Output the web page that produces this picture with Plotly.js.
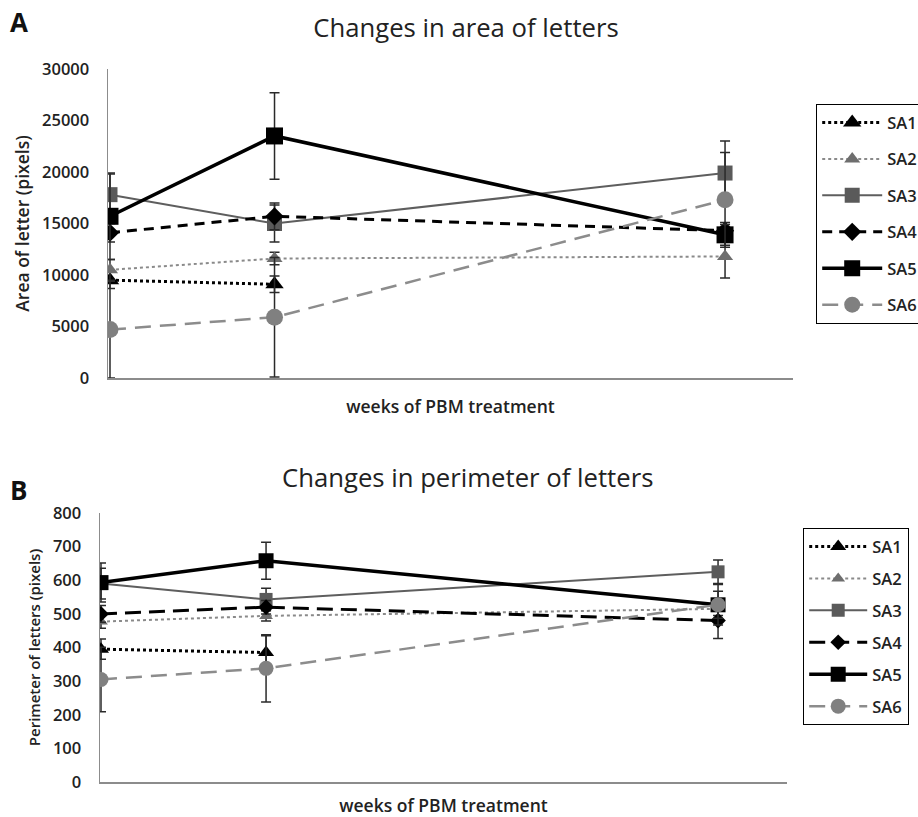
<!DOCTYPE html>
<html>
<head>
<meta charset="utf-8">
<script src="https://cdn.plot.ly/plotly-3.0.1.min.js"></script>
<style>html,body{margin:0;padding:0;background:#fff;}#chart{width:918px;height:817px;}</style>
</head>
<body>
<div id="chart"></div>
<script>
const weeks = [0, 1.07, 4];
const seriesNames = ['SA1', 'SA2', 'SA3', 'SA4', 'SA5', 'SA6'];

// Panel A: area of letter (pixels)
const areaSA1 = [9500, 9100];
const areaSA2 = [10500, 11600, 11800];
const areaSA3 = [17800, 15000, 19900];
const areaSA4 = [14100, 15700, 14300];
const areaSA5 = [15700, 23500, 13900];
const areaSA6 = [4700, 5900, 17300];
const areaErrSA1 = [800, 800];
const areaErrSA2 = [1000, 600, 2100];
const areaErrSA3 = [2000, 1800, 3100];
const areaErrSA4 = [900, 1300, 800];
const areaErrSA5 = [4200, 4200, 1000];
const areaErrSA6 = [4700, 5800, 4600];

// Panel B: perimeter of letters (pixels)
const perSA1 = [395, 385];
const perSA2 = [477, 494, 515];
const perSA3 = [590, 543, 625];
const perSA4 = [500, 520, 480];
const perSA5 = [593, 658, 527];
const perSA6 = [305, 338, 527];
const perErrSA1 = [30, 50];
const perErrSA2 = [20, 15, 20];
const perErrSA3 = [46, 33, 35];
const perErrSA4 = [25, 20, 53];
const perErrSA5 = [58, 55, 60];
const perErrSA6 = [96, 100, 40];

const areaTicks = [0, 5000, 10000, 15000, 20000, 25000, 30000];
const perTicks = [0, 100, 200, 300, 400, 500, 600, 700, 800];

const styles = [
  {line: {color: '#000', width: 3, dash: 'dot'}, marker: {symbol: 'triangle-up', color: '#000', size: 16}},
  {line: {color: '#8a8a8a', width: 2, dash: 'dot'}, marker: {symbol: 'triangle-up', color: '#6e6e6e', size: 14}},
  {line: {color: '#5e5e5e', width: 2, dash: 'solid'}, marker: {symbol: 'square', color: '#5a5a5a', size: 15}},
  {line: {color: '#000', width: 3, dash: '10px,7px'}, marker: {symbol: 'diamond', color: '#000', size: 14}},
  {line: {color: '#000', width: 3.5, dash: 'solid'}, marker: {symbol: 'square', color: '#000', size: 17}},
  {line: {color: '#8c8c8c', width: 2.5, dash: '16px,9px'}, marker: {symbol: 'circle', color: '#808080', size: 17}}
];

const areaData = [areaSA1, areaSA2, areaSA3, areaSA4, areaSA5, areaSA6];
const areaErr = [areaErrSA1, areaErrSA2, areaErrSA3, areaErrSA4, areaErrSA5, areaErrSA6];
const perData = [perSA1, perSA2, perSA3, perSA4, perSA5, perSA6];
const perErr = [perErrSA1, perErrSA2, perErrSA3, perErrSA4, perErrSA5, perErrSA6];

const traces = [];
seriesNames.forEach((name, i) => {
  traces.push({
    type: 'scatter', mode: 'lines+markers', name: name,
    x: weeks.slice(0, areaData[i].length), y: areaData[i],
    xaxis: 'x', yaxis: 'y', legend: 'legend', legendgroup: 'a' + i,
    line: styles[i].line, marker: styles[i].marker,
    error_y: {type: 'data', array: areaErr[i], visible: true, color: '#2a2a2a', thickness: 1.5, width: 5}
  });
});
seriesNames.forEach((name, i) => {
  const m = Object.assign({}, styles[i].marker, {size: styles[i].marker.size - 2});
  const l = i === 3 ? Object.assign({}, styles[i].line, {dash: '16px,8px'}) : styles[i].line;
  traces.push({
    type: 'scatter', mode: 'lines+markers', name: name,
    x: weeks.slice(0, perData[i].length), y: perData[i],
    xaxis: 'x2', yaxis: 'y2', legend: 'legend2', legendgroup: 'b' + i,
    line: l, marker: m,
    error_y: {type: 'data', array: perErr[i], visible: true, color: '#2a2a2a', thickness: 1.5, width: 5}
  });
});

const W = 918, H = 817;
const tickFont = {family: 'Open Sans', size: 16.5, weight: 600, color: '#222'};
const axTitleFont = {family: 'Open Sans', size: 17.5, weight: 600, color: '#222'};
const layout = {
  width: W, height: H,
  margin: {l: 0, r: 0, t: 0, b: 0, autoexpand: false},
  paper_bgcolor: '#fff', plot_bgcolor: '#fff',
  font: {family: 'Open Sans', color: '#222'},
  title: {text: 'Changes in area of letters', font: {family: 'Open Sans', size: 25.7, weight: 500, color: '#222'},
          x: 466 / W, xanchor: 'center', y: 1 - 28 / H, yanchor: 'middle', xref: 'paper', yref: 'paper'},
  xaxis: {domain: [108 / W, 793 / W], range: [-0.013, 4.442], anchor: 'y',
          showticklabels: false, ticks: '', showgrid: false, zeroline: false,
          showline: true, linecolor: '#8c8c8c', linewidth: 1.5,
          title: {text: 'weeks of PBM treatment', font: axTitleFont, standoff: 22}},
  yaxis: {domain: [1 - 378 / H, 1 - 69 / H], range: [0, 30000], anchor: 'x',
          tickvals: areaTicks, ticktext: areaTicks.map(String), ticks: '', showgrid: false, zeroline: false,
          showline: true, linecolor: '#8c8c8c', linewidth: 1.5, tickfont: tickFont, ticklabelstandoff: 14,
          title: {text: 'Area of letter (pixels)', font: {family: 'Open Sans', size: 17.5, weight: 600, color: '#222'}, standoff: 8}},
  xaxis2: {domain: [100 / W, 787 / W], range: [-0.0065, 4.447], anchor: 'y2',
          showticklabels: false, ticks: '', showgrid: false, zeroline: false,
          showline: true, linecolor: '#8c8c8c', linewidth: 1.5,
          title: {text: 'weeks of PBM treatment', font: axTitleFont, standoff: 20}},
  yaxis2: {domain: [1 - 782 / H, 1 - 513 / H], range: [0, 800], anchor: 'x2',
          tickvals: perTicks, ticktext: perTicks.map(String), ticks: '', showgrid: false, zeroline: false,
          showline: true, linecolor: '#8c8c8c', linewidth: 1.5, tickfont: tickFont, ticklabelstandoff: 14,
          title: {text: 'Perimeter of letters (pixels)', font: {family: 'Open Sans', size: 15, weight: 600, color: '#222'}, standoff: 8}},
  legend: {x: 816 / W, y: 1 - 104 / H, xanchor: 'left', yanchor: 'top', bgcolor: '#fff',
           bordercolor: '#000', borderwidth: 1.2, font: {family: 'Open Sans', size: 16.5, weight: 600, color: '#222'},
           itemwidth: 60, traceorder: 'grouped', tracegroupgap: 12},
  legend2: {x: 803 / W, y: 1 - 528 / H, xanchor: 'left', yanchor: 'top', bgcolor: '#fff',
           bordercolor: '#000', borderwidth: 1.2, font: {family: 'Open Sans', size: 16.5, weight: 600, color: '#222'},
           itemwidth: 58, traceorder: 'grouped', tracegroupgap: 7.5},
  annotations: [
    {text: '<b>A</b>', x: 8 / W, y: 1 - 22 / H, xref: 'paper', yref: 'paper', xanchor: 'left', yanchor: 'middle',
     showarrow: false, font: {family: 'Open Sans', size: 26, color: '#111'}},
    {text: '<b>B</b>', x: 8 / W, y: 1 - 490 / H, xref: 'paper', yref: 'paper', xanchor: 'left', yanchor: 'middle',
     showarrow: false, font: {family: 'Open Sans', size: 26, color: '#111'}},
    {text: 'Changes in perimeter of letters', x: 468 / W, y: 1 - 477 / H, xref: 'paper', yref: 'paper',
     xanchor: 'center', yanchor: 'middle', showarrow: false,
     font: {family: 'Open Sans', size: 25.7, weight: 500, color: '#222'}}
  ]
};

Plotly.newPlot('chart', traces, layout, {displayModeBar: false, staticPlot: true});
</script>
</body>
</html>
